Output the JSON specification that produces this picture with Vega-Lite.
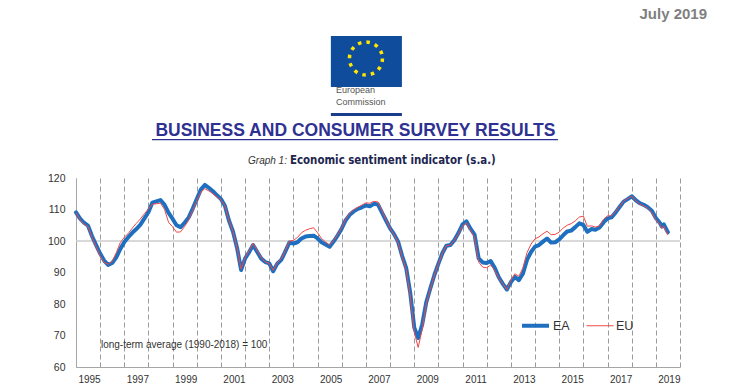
{
  "$schema": "https://vega.github.io/schema/vega-lite/v6.json",
  "width": 604,
  "height": 189,
  "autosize": {"type": "none"},
  "padding": {"left": 76, "top": 178, "right": 50, "bottom": 22},
  "background": "white",
  "config": {
    "view": {"stroke": null},
    "font": "Liberation Sans",
    "axisX": {
      "tickCount": {"interval": "year", "step": 1},
      "grid": true, "gridColor": "#9a9a9a", "gridDash": [5, 3], "gridWidth": 1,
      "ticks": false, "domainColor": "#a6a6a6", "domainWidth": 1,
      "labelExpr": "utcyear(datum.value) % 2 == 1 ? utcFormat(datum.value, '%Y') : ''",
      "labelOffset": 13, "labelFlush": false, "labelOverlap": false, "labelBound": false,
      "labelPadding": 7, "labelFontSize": 10, "labelColor": "#333333"
    },
    "axisY": {
      "tickCount": 6,
      "grid": false, "ticks": false, "domainColor": "#a6a6a6", "domainWidth": 1,
      "labelPadding": 11, "labelFontSize": 10.5, "labelColor": "#333333"
    }
  },
  "datasets": {
    "esi": [
      {"d":"1995-01","EA":109.1,"EU":108.9},{"d":"1995-03","EA":107.2,"EU":106.9},{"d":"1995-05","EA":105.8,"EU":105.3},{"d":"1995-07","EA":104.9,"EU":104.6},{"d":"1995-09","EA":101.5,"EU":101.2},{"d":"1995-11","EA":98.7,"EU":98.2},
      {"d":"1996-01","EA":96.0,"EU":95.2},{"d":"1996-03","EA":93.8,"EU":93.2},{"d":"1996-05","EA":92.4,"EU":92.6},{"d":"1996-07","EA":93.0,"EU":93.5},{"d":"1996-09","EA":94.8,"EU":96.3},{"d":"1996-11","EA":97.5,"EU":99.5},
      {"d":"1997-01","EA":99.7,"EU":101.2},{"d":"1997-03","EA":101.2,"EU":102.4},{"d":"1997-05","EA":102.6,"EU":104.1},{"d":"1997-07","EA":103.8,"EU":105.6},{"d":"1997-09","EA":105.2,"EU":107.0},{"d":"1997-11","EA":107.2,"EU":108.7},
      {"d":"1998-01","EA":109.2,"EU":110.2},{"d":"1998-03","EA":112.2,"EU":111.7},{"d":"1998-05","EA":112.6,"EU":111.8},{"d":"1998-07","EA":113.0,"EU":112.0},{"d":"1998-09","EA":111.5,"EU":110.0},{"d":"1998-11","EA":108.9,"EU":105.9},
      {"d":"1999-01","EA":107.0,"EU":104.5},{"d":"1999-03","EA":105.0,"EU":102.8},{"d":"1999-05","EA":104.4,"EU":102.9},{"d":"1999-07","EA":105.8,"EU":104.6},{"d":"1999-09","EA":107.5,"EU":106.7},{"d":"1999-11","EA":110.3,"EU":109.8},
      {"d":"2000-01","EA":113.3,"EU":112.8},{"d":"2000-03","EA":116.3,"EU":115.5},{"d":"2000-05","EA":117.8,"EU":116.6},{"d":"2000-07","EA":116.9,"EU":115.9},{"d":"2000-09","EA":115.8,"EU":115.0},{"d":"2000-11","EA":114.5,"EU":114.0},
      {"d":"2001-01","EA":113.3,"EU":113.1},{"d":"2001-03","EA":111.2,"EU":111.2},{"d":"2001-05","EA":106.5,"EU":106.5},{"d":"2001-07","EA":103.0,"EU":103.0},{"d":"2001-09","EA":97.8,"EU":97.8},{"d":"2001-11","EA":90.8,"EU":91.1},
      {"d":"2002-01","EA":94.5,"EU":94.8},{"d":"2002-03","EA":96.4,"EU":96.9},{"d":"2002-05","EA":98.7,"EU":99.2},{"d":"2002-07","EA":96.6,"EU":97.1},{"d":"2002-09","EA":94.4,"EU":94.7},{"d":"2002-11","EA":93.3,"EU":93.3},
      {"d":"2003-01","EA":92.9,"EU":92.9},{"d":"2003-03","EA":90.4,"EU":90.7},{"d":"2003-05","EA":92.8,"EU":93.1},{"d":"2003-07","EA":94.0,"EU":94.3},{"d":"2003-09","EA":96.7,"EU":97.0},{"d":"2003-11","EA":99.5,"EU":100.0},
      {"d":"2004-01","EA":99.2,"EU":100.2},{"d":"2004-03","EA":99.6,"EU":101.1},{"d":"2004-05","EA":100.8,"EU":102.6},{"d":"2004-07","EA":101.4,"EU":103.4},{"d":"2004-09","EA":101.6,"EU":103.9},{"d":"2004-11","EA":101.7,"EU":104.2},
      {"d":"2005-01","EA":100.8,"EU":102.6},{"d":"2005-03","EA":99.6,"EU":100.8},{"d":"2005-05","EA":98.9,"EU":99.7},{"d":"2005-07","EA":98.2,"EU":98.7},{"d":"2005-09","EA":99.9,"EU":100.2},{"d":"2005-11","EA":101.8,"EU":102.1},
      {"d":"2006-01","EA":104.0,"EU":104.3},{"d":"2006-03","EA":106.6,"EU":106.9},{"d":"2006-05","EA":108.3,"EU":108.8},{"d":"2006-07","EA":109.4,"EU":109.9},{"d":"2006-09","EA":110.2,"EU":110.7},{"d":"2006-11","EA":110.7,"EU":111.4},
      {"d":"2007-01","EA":111.3,"EU":112.1},{"d":"2007-03","EA":111.0,"EU":112.0},{"d":"2007-05","EA":111.8,"EU":112.6},{"d":"2007-07","EA":111.6,"EU":112.4},{"d":"2007-09","EA":109.0,"EU":109.5},{"d":"2007-11","EA":106.5,"EU":106.8},
      {"d":"2008-01","EA":104.0,"EU":104.0},{"d":"2008-03","EA":102.2,"EU":102.0},{"d":"2008-05","EA":99.8,"EU":99.5},{"d":"2008-07","EA":95.3,"EU":94.8},{"d":"2008-09","EA":91.4,"EU":90.9},{"d":"2008-11","EA":83.5,"EU":82.5},
      {"d":"2009-01","EA":72.5,"EU":71.0},{"d":"2009-03","EA":69.2,"EU":66.2},{"d":"2009-05","EA":73.5,"EU":72.0},{"d":"2009-07","EA":80.5,"EU":80.0},{"d":"2009-09","EA":85.0,"EU":84.7},{"d":"2009-11","EA":89.2,"EU":89.2},
      {"d":"2010-01","EA":92.8,"EU":92.8},{"d":"2010-03","EA":96.1,"EU":96.1},{"d":"2010-05","EA":98.5,"EU":98.5},{"d":"2010-07","EA":98.7,"EU":98.7},{"d":"2010-09","EA":100.3,"EU":100.3},{"d":"2010-11","EA":102.6,"EU":102.3},
      {"d":"2011-01","EA":105.3,"EU":104.8},{"d":"2011-03","EA":106.2,"EU":105.7},{"d":"2011-05","EA":103.9,"EU":103.4},{"d":"2011-07","EA":102.0,"EU":101.2},{"d":"2011-09","EA":94.5,"EU":93.3},{"d":"2011-11","EA":93.2,"EU":91.7},
      {"d":"2012-01","EA":93.0,"EU":91.5},{"d":"2012-03","EA":93.6,"EU":92.4},{"d":"2012-05","EA":91.5,"EU":90.7},{"d":"2012-07","EA":88.5,"EU":88.2},{"d":"2012-09","EA":86.4,"EU":86.4},{"d":"2012-11","EA":84.6,"EU":84.6},
      {"d":"2013-01","EA":87.0,"EU":87.5},{"d":"2013-03","EA":88.6,"EU":89.6},{"d":"2013-05","EA":87.6,"EU":88.8},{"d":"2013-07","EA":89.6,"EU":91.4},{"d":"2013-09","EA":94.0,"EU":96.3},{"d":"2013-11","EA":96.5,"EU":99.0},
      {"d":"2014-01","EA":98.2,"EU":100.7},{"d":"2014-03","EA":98.7,"EU":101.3},{"d":"2014-05","EA":99.8,"EU":102.3},{"d":"2014-07","EA":100.8,"EU":103.1},{"d":"2014-09","EA":99.5,"EU":102.0},{"d":"2014-11","EA":99.6,"EU":102.1},
      {"d":"2015-01","EA":100.5,"EU":102.8},{"d":"2015-03","EA":101.8,"EU":104.1},{"d":"2015-05","EA":103.0,"EU":105.0},{"d":"2015-07","EA":103.3,"EU":105.5},{"d":"2015-09","EA":104.4,"EU":106.4},{"d":"2015-11","EA":105.6,"EU":107.6},
      {"d":"2016-01","EA":105.1,"EU":107.9},{"d":"2016-03","EA":102.9,"EU":104.7},{"d":"2016-05","EA":103.8,"EU":104.8},{"d":"2016-07","EA":103.6,"EU":104.4},{"d":"2016-09","EA":104.3,"EU":104.8},{"d":"2016-11","EA":105.9,"EU":106.9},
      {"d":"2017-01","EA":107.2,"EU":108.0},{"d":"2017-03","EA":107.5,"EU":108.0},{"d":"2017-05","EA":109.0,"EU":109.3},{"d":"2017-07","EA":110.8,"EU":111.0},{"d":"2017-09","EA":112.5,"EU":112.7},{"d":"2017-11","EA":113.3,"EU":113.5},
      {"d":"2018-01","EA":114.2,"EU":114.2},{"d":"2018-03","EA":113.0,"EU":112.8},{"d":"2018-05","EA":112.0,"EU":111.7},{"d":"2018-07","EA":111.5,"EU":111.2},{"d":"2018-09","EA":110.7,"EU":110.4},{"d":"2018-11","EA":109.6,"EU":109.1},
      {"d":"2019-01","EA":107.3,"EU":106.8},{"d":"2019-03","EA":105.8,"EU":105.3},{"d":"2019-04","EA":104.6,"EU":104.0},{"d":"2019-05","EA":105.3,"EU":104.7},{"d":"2019-06","EA":104.0,"EU":103.2},{"d":"2019-07","EA":102.8,"EU":102.0}
    ]
  },
  "layer": [
    {
      "data": {"values": [{}]},
      "mark": {"type": "rule", "color": "#cccccc", "strokeWidth": 1.5},
      "encoding": {
        "y": {"datum": 100, "type": "quantitative", "scale": {"domain": [60, 120], "nice": false, "zero": false}, "title": null}
      }
    },
    {
      "data": {"name": "esi"},
      "transform": [{"fold": ["EA", "EU"], "as": ["series", "value"]}],
      "mark": {"type": "line", "strokeJoin": "round", "strokeCap": "round"},
      "encoding": {
        "x": {
          "field": "d", "type": "temporal", "title": null,
          "scale": {"type": "utc", "domain": [{"year": 1995, "month": 1, "date": 1, "utc": true}, {"year": 2020, "month": 1, "date": 1, "utc": true}]}
        },
        "y": {
          "field": "value", "type": "quantitative", "title": null,
          "scale": {"domain": [60, 120], "nice": false, "zero": false}
        },
        "color": {
          "field": "series", "type": "nominal",
          "scale": {"domain": ["EA", "EU"], "range": ["#1f6fc0", "#f04848"]},
          "legend": {"orient": "none", "legendX": 444, "legendY": 132, "direction": "horizontal", "title": null, "symbolType": "stroke", "symbolSize": 729, "labelFontSize": 12.5, "labelColor": "#333333", "labelOffset": 2, "columnPadding": 14}
        },
        "strokeWidth": {
          "field": "series", "type": "nominal",
          "scale": {"type": "ordinal", "domain": ["EA", "EU"], "range": [4, 1]},
          "legend": {"orient": "none", "legendX": 444, "legendY": 132, "direction": "horizontal", "title": null, "symbolType": "stroke", "symbolSize": 729, "labelFontSize": 12.5, "labelColor": "#333333", "labelOffset": 2, "columnPadding": 14}
        }
      }
    },
    {
      "data": {"values": [{}]},
      "mark": {"type": "text", "align": "left", "baseline": "middle", "fontSize": 10, "color": "#333333", "text": "long-term average (1990-2018) = 100"},
      "encoding": {
        "x": {"datum": {"year": 1996, "month": 1, "date": 13, "utc": true}, "type": "temporal", "title": null},
        "y": {"datum": 67, "type": "quantitative", "title": null}
      }
    },
    {
      "data": {"values": [{}]},
      "mark": {"type": "text", "align": "center", "baseline": "middle", "fontSize": 17.5, "fontWeight": "bold", "color": "#2e3192", "text": "BUSINESS AND CONSUMER SURVEY RESULTS"},
      "encoding": {
        "x": {"datum": {"year": 2006, "month": 7, "date": 26, "utc": true}, "type": "temporal", "title": null},
        "y": {"datum": 134.9, "type": "quantitative", "title": null}
      }
    },
    {
      "data": {"values": [{}]},
      "mark": {"type": "rule", "color": "#2e3192", "strokeWidth": 1.3},
      "encoding": {
        "x": {"datum": {"year": 1998, "month": 2, "date": 23, "utc": true}, "type": "temporal", "title": null},
        "x2": {"datum": {"year": 2014, "month": 12, "date": 13, "utc": true}},
        "y": {"datum": 132.2, "type": "quantitative", "title": null}
      }
    },
    {
      "data": {"values": [{}]},
      "mark": {"type": "text", "align": "left", "baseline": "middle", "fontSize": 10, "fontStyle": "italic", "color": "#333333", "text": "Graph 1:"},
      "encoding": {
        "x": {"datum": {"year": 2002, "month": 2, "date": 14, "utc": true}, "type": "temporal", "title": null},
        "y": {"datum": 125.4, "type": "quantitative", "title": null}
      }
    },
    {
      "data": {"values": [{}]},
      "mark": {"type": "text", "align": "left", "baseline": "middle", "fontSize": 11.4, "fontWeight": "bold", "font": "DejaVu Sans Condensed, Liberation Sans", "color": "#20264f", "text": "Economic sentiment indicator (s.a.)"},
      "encoding": {
        "x": {"datum": {"year": 2003, "month": 11, "date": 10, "utc": true}, "type": "temporal", "title": null},
        "y": {"datum": 125.4, "type": "quantitative", "title": null}
      }
    },
    {
      "data": {"values": [{}]},
      "mark": {"type": "text", "align": "right", "baseline": "middle", "fontSize": 15, "fontWeight": "bold", "color": "#7f7f7f", "text": "July 2019"},
      "encoding": {
        "x": {"datum": {"year": 2021, "month": 2, "date": 13, "utc": true}, "type": "temporal", "title": null},
        "y": {"datum": 172.06, "type": "quantitative", "title": null}
      }
    },
    {
      "data": {"values": [{}]},
      "mark": {"type": "rect", "color": "#0f4c9c"},
      "encoding": {
        "x": {"datum": {"year": 2005, "month": 7, "date": 20, "utc": true}, "type": "temporal", "title": null},
        "x2": {"datum": {"year": 2008, "month": 6, "date": 28, "utc": true}},
        "y": {"datum": 165.08, "type": "quantitative", "title": null},
        "y2": {"datum": 148.89}
      }
    },
    {
      "data": {"values": [{}]},
      "mark": {"type": "point", "shape": "circle", "filled": false, "opacity": 1, "size": 1089, "stroke": "#ffe600", "strokeWidth": 3.5, "strokeDash": [3.5, 5.14]},
      "encoding": {
        "x": {"datum": {"year": 2007, "month": 1, "date": 1, "utc": true}, "type": "temporal", "title": null},
        "y": {"datum": 157.94, "type": "quantitative", "title": null}
      }
    },
    {
      "data": {"values": [{}]},
      "mark": {"type": "text", "align": "left", "baseline": "middle", "fontSize": 9, "color": "#555555", "text": "European"},
      "encoding": {
        "x": {"datum": {"year": 2005, "month": 10, "date": 5, "utc": true}, "type": "temporal", "title": null},
        "y": {"datum": 147.94, "type": "quantitative", "title": null}
      }
    },
    {
      "data": {"values": [{}]},
      "mark": {"type": "text", "align": "left", "baseline": "middle", "fontSize": 9, "color": "#555555", "text": "Commission"},
      "encoding": {
        "x": {"datum": {"year": 2005, "month": 10, "date": 5, "utc": true}, "type": "temporal", "title": null},
        "y": {"datum": 143.97, "type": "quantitative", "title": null}
      }
    },
    {
      "data": {"values": [{}]},
      "mark": {"type": "rect", "color": "#1a3c8a"},
      "encoding": {
        "x": {"datum": {"year": 2005, "month": 7, "date": 20, "utc": true}, "type": "temporal", "title": null},
        "x2": {"datum": {"year": 2008, "month": 6, "date": 28, "utc": true}},
        "y": {"datum": 140.63, "type": "quantitative", "title": null},
        "y2": {"datum": 139.68}
      }
    }
  ]
}
